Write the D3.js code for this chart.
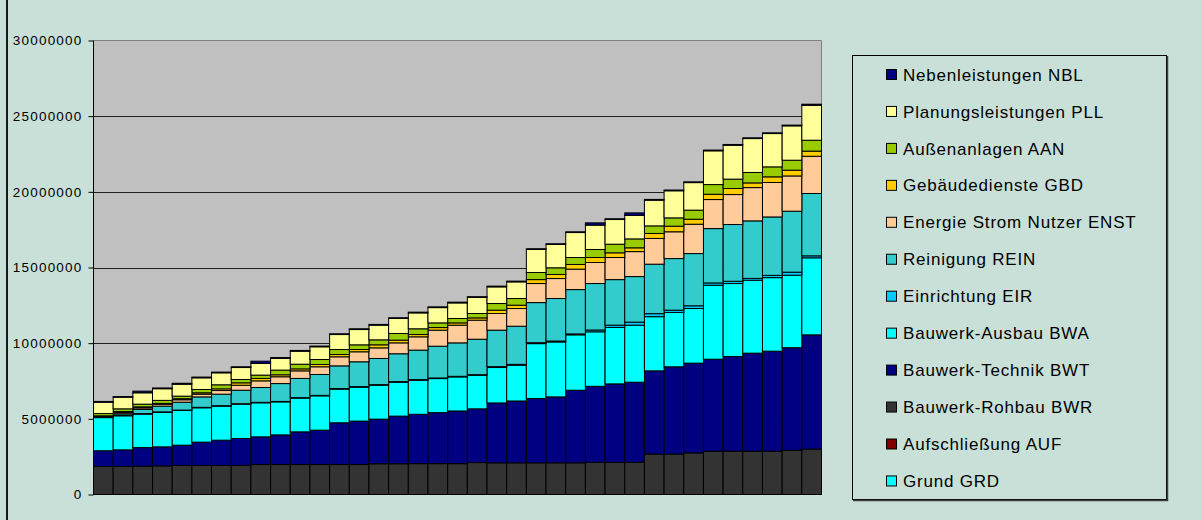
<!DOCTYPE html>
<html>
<head>
<meta charset="utf-8">
<script src="https://cdn.jsdelivr.net/npm/d3@7"></script>
<style>
  body { margin: 0; background: #c9e0d8; }
  svg { display: block; font-family: "Liberation Sans", Arial, sans-serif; }
</style>
</head>
<body>
<script>
// categories (no labels shown on the x axis)
var categories = [1,2,3,4,5,6,7,8,9,10,11,12,13,14,15,16,17,18,19,20,21,22,23,24,25,26,27,28,29,30,31,32,33,34,35,36,37];

// values in millions
var GRD  = [0,0,0,0,0,0,0,0,0,0,0,0,0,0,0,0,0,0,0,0,0,0,0,0,0,0,0,0,0,0,0,0,0,0,0,0,0];
var AUF  = [0,0,0,0,0,0,0,0,0,0,0,0,0,0,0,0,0,0,0,0,0,0,0,0,0,0,0,0,0,0,0,0,0,0,0,0,0];
var BWR  = [1.85,1.85,1.87,1.89,1.92,1.92,1.92,1.92,1.98,1.98,1.98,1.98,1.98,1.98,2.03,2.03,2.04,2.04,2.04,2.11,2.09,2.09,2.09,2.09,2.09,2.13,2.13,2.13,2.67,2.67,2.75,2.86,2.86,2.86,2.86,2.92,3.00];
var BWT  = [1.04,1.10,1.23,1.26,1.34,1.54,1.67,1.78,1.83,1.96,2.16,2.27,2.76,2.87,2.95,3.15,3.26,3.37,3.48,3.55,3.96,4.09,4.25,4.36,4.80,5.02,5.18,5.29,5.50,5.77,5.93,6.08,6.26,6.48,6.61,6.78,7.55];
var BWA  = [2.19,2.25,2.21,2.27,2.29,2.27,2.25,2.27,2.25,2.18,2.23,2.27,2.22,2.24,2.24,2.24,2.25,2.25,2.25,2.22,2.34,2.36,3.63,3.63,3.66,3.60,3.73,3.77,3.58,3.59,3.61,4.89,4.82,4.82,4.86,4.79,5.09];
var EIR  = [0.02,0.03,0.04,0.04,0.03,0.03,0.03,0.03,0.03,0.03,0.03,0.03,0.04,0.04,0.04,0.04,0.04,0.04,0.04,0.04,0.06,0.06,0.06,0.06,0.06,0.12,0.15,0.20,0.20,0.15,0.18,0.15,0.15,0.12,0.15,0.20,0.13];
var REIN = [0.02,0.10,0.27,0.38,0.52,0.69,0.76,0.89,0.98,1.18,1.27,1.38,1.50,1.64,1.73,1.84,1.95,2.10,2.21,2.34,2.41,2.52,2.65,2.81,2.93,3.07,3.01,3.01,3.27,3.41,3.45,3.59,3.75,3.80,3.86,4.03,4.12];
var ENST = [0.03,0.08,0.10,0.12,0.16,0.18,0.24,0.33,0.44,0.45,0.50,0.51,0.60,0.66,0.70,0.72,0.88,1.06,1.17,1.26,1.10,1.17,1.26,1.32,1.35,1.39,1.46,1.65,1.70,1.77,1.94,1.92,1.98,2.20,2.28,2.33,2.46];
var GBD  = [0.05,0.07,0.07,0.06,0.07,0.09,0.11,0.16,0.16,0.13,0.13,0.15,0.15,0.15,0.20,0.18,0.15,0.17,0.15,0.15,0.22,0.22,0.26,0.27,0.31,0.33,0.31,0.25,0.33,0.37,0.33,0.35,0.40,0.31,0.37,0.38,0.34];
var AAN  = [0.15,0.18,0.18,0.20,0.17,0.22,0.27,0.22,0.22,0.31,0.31,0.33,0.33,0.31,0.33,0.44,0.38,0.31,0.29,0.29,0.44,0.44,0.47,0.44,0.46,0.53,0.57,0.59,0.50,0.55,0.60,0.64,0.62,0.69,0.66,0.66,0.72];
var PLL  = [0.75,0.77,0.75,0.77,0.79,0.77,0.79,0.79,0.77,0.78,0.86,0.84,0.99,1.01,0.97,0.99,1.05,1.01,1.03,1.06,1.10,1.10,1.52,1.54,1.65,1.61,1.63,1.55,1.70,1.79,1.82,2.23,2.24,2.24,2.20,2.27,2.31];
var NBL  = [0.05,0.04,0.11,0.05,0.06,0.05,0.05,0.05,0.15,0.05,0.05,0.05,0.05,0.05,0.05,0.05,0.05,0.05,0.05,0.05,0.05,0.05,0.05,0.05,0.05,0.15,0.05,0.17,0.05,0.05,0.05,0.05,0.05,0.05,0.05,0.05,0.07];

var yTicks = [0, 5, 10, 15, 20, 25, 30];

// bottom to top
var series = [
  {key: "GRD",  name: "Grund GRD",                 color: "#00ffff", values: GRD},
  {key: "AUF",  name: "Aufschließung AUF",         color: "#800000", values: AUF},
  {key: "BWR",  name: "Bauwerk-Rohbau BWR",        color: "#333333", values: BWR},
  {key: "BWT",  name: "Bauwerk-Technik BWT",       color: "#000080", values: BWT},
  {key: "BWA",  name: "Bauwerk-Ausbau BWA",        color: "#00ffff", values: BWA},
  {key: "EIR",  name: "Einrichtung EIR",           color: "#00ccff", values: EIR},
  {key: "REIN", name: "Reinigung REIN",            color: "#33cccc", values: REIN},
  {key: "ENST", name: "Energie Strom Nutzer ENST", color: "#ffcc99", values: ENST},
  {key: "GBD",  name: "Gebäudedienste GBD",        color: "#ffcc00", values: GBD},
  {key: "AAN",  name: "Außenanlagen AAN",          color: "#99cc00", values: AAN},
  {key: "PLL",  name: "Planungsleistungen PLL",    color: "#ffff99", values: PLL},
  {key: "NBL",  name: "Nebenleistungen NBL",       color: "#000080", values: NBL}
];

var W = 1201, H = 520;
var plot = {left: 93.5, right: 821.5, top: 40.5, bottom: 494.5};

var svg = d3.select("body").append("svg")
    .attr("width", W)
    .attr("height", H);

// left frame line
svg.append("line")
    .attr("x1", 7).attr("x2", 7).attr("y1", 0).attr("y2", H)
    .attr("stroke", "#1a1a1a").attr("stroke-width", 2);

var rows = categories.map(function(c, i) {
  var r = {cat: c};
  series.forEach(function(s) { r[s.key] = s.values[i]; });
  return r;
});

var stack = d3.stack().keys(series.map(function(s) { return s.key; }));
var layers = stack(rows);

var x = d3.scaleBand()
    .domain(categories)
    .range([plot.left, plot.right])
    .padding(0);

var y = d3.scaleLinear()
    .domain([0, 30])
    .range([plot.bottom, plot.top]);

// plot area
svg.append("rect")
    .attr("x", plot.left).attr("y", plot.top)
    .attr("width", plot.right - plot.left).attr("height", plot.bottom - plot.top)
    .attr("fill", "#c0c0c0");

// gridlines
svg.append("g").selectAll("line")
    .data(yTicks.filter(function(d) { return d > 0 && d < 30; }))
  .enter().append("line")
    .attr("x1", plot.left).attr("x2", plot.right)
    .attr("y1", function(d) { return Math.round(y(d)) + 0.5; })
    .attr("y2", function(d) { return Math.round(y(d)) + 0.5; })
    .attr("stroke", "#1e1e1e");

// top and right border of plot area
svg.append("path")
    .attr("d", "M" + plot.left + "," + plot.top + "H" + plot.right + "V" + plot.bottom)
    .attr("fill", "none").attr("stroke", "#808080");

// bars
svg.append("g").selectAll("g")
    .data(layers)
  .enter().append("g")
    .attr("fill", function(d, i) { return series[i].color; })
  .selectAll("rect")
    .data(function(d) { return d.filter(function(p) { return p[1] - p[0] > 0; }); })
  .enter().append("rect")
    .attr("x", function(d) { return x(d.data.cat); })
    .attr("y", function(d) { return y(d[1]); })
    .attr("width", x.bandwidth())
    .attr("height", function(d) { return y(d[0]) - y(d[1]); })
    .attr("stroke", "#000")
    .attr("stroke-width", 1);

// y axis
var yAxis = d3.axisLeft(y)
    .tickValues(yTicks)
    .tickSize(5)
    .tickFormat(function(d) { return d3.format("d")(d * 1e6); });

var ga = svg.append("g")
    .attr("transform", "translate(" + plot.left + ",0)")
    .call(yAxis);
ga.select(".domain").attr("stroke", "#000").attr("d", "M0," + plot.top + "V" + plot.bottom);
ga.selectAll(".tick line").attr("stroke", "#000");
ga.selectAll(".tick text")
    .attr("x", -11)
    .attr("font-size", "13.5px")
    .attr("letter-spacing", "1.2px")
    .attr("font-family", "Liberation Sans, Arial, sans-serif")
    .attr("fill", "#000");

// bottom axis line
svg.append("line")
    .attr("x1", plot.left).attr("x2", plot.right)
    .attr("y1", plot.bottom).attr("y2", plot.bottom)
    .attr("stroke", "#000");

// legend
var legend = svg.append("g");
legend.append("rect")
    .attr("x", 852.5).attr("y", 55.5)
    .attr("width", 314).attr("height", 444)
    .attr("fill", "none").attr("stroke", "#000");
legend.append("path")
    .attr("d", "M853,500.5H1167.5V56")
    .attr("fill", "none").attr("stroke", "#404040").attr("stroke-width", 1.5);

var legendItems = series.slice().reverse();
var li = legend.selectAll("g.item")
    .data(legendItems)
  .enter().append("g")
    .attr("class", "item")
    .attr("transform", function(d, i) { return "translate(0," + (74.5 + i * 36.95) + ")"; });

li.append("rect")
    .attr("x", 886.5).attr("y", -5)
    .attr("width", 10).attr("height", 10)
    .attr("fill", function(d) { return d.color; })
    .attr("stroke", "#000");

li.append("text")
    .attr("x", 903)
    .attr("dy", "0.36em")
    .attr("font-size", "17px")
    .attr("letter-spacing", "0.8px")
    .attr("fill", "#000")
    .text(function(d) { return d.name; });
</script>
</body>
</html>
